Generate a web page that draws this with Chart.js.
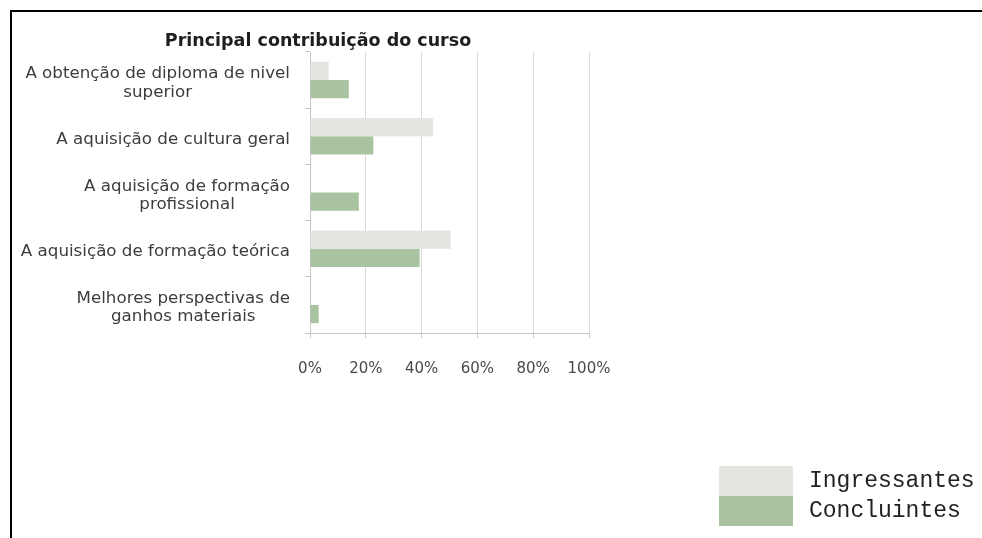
<!DOCTYPE html>
<html>
<head>
<meta charset="utf-8">
<script src="https://cdn.jsdelivr.net/npm/chart.js@4/dist/chart.umd.min.js"></script>
<style>
  html, body { margin: 0; padding: 0; background: #fff; }
  #wrap { position: relative; width: 982px; height: 538px; overflow: hidden; }
  #frame { position: absolute; left: 10px; top: 10px; right: -10px; bottom: -10px;
           border-top: 2px solid #000; border-left: 2px solid #000; }
  canvas { position: absolute; left: 0; top: 0; }
</style>
</head>
<body>
<div id="wrap">
  <div id="frame"></div>
  <canvas id="chart" width="982" height="538"></canvas>
</div>
<script>
// Survey answers: share of respondents per option (%)
const chartTitle = "Principal contribuição do curso";
const categories = [
  ["A obtenção de diploma de nivel", "superior"],
  ["A aquisição de cultura geral"],
  ["A aquisição de formação", "profissional"],
  ["A aquisição de formação teórica"],
  ["Melhores perspectivas de", "ganhos materiais"]
];
const seriesNames = ["Ingressantes", "Concluintes"];
const ingressantes = [6.7, 44.1, 0, 50.4, 0];
const concluintes = [13.9, 22.7, 17.5, 39.3, 3.1];
const xTickValues = [0, 20, 40, 60, 80, 100];

const GRID = '#d9d9d9';
const AXIS = '#c6c6c6';

// Title, multi-line category labels (right-aligned blocks, centered lines) and legend
const decorations = {
  id: 'decorations',
  afterDraw(chart) {
    const ctx = chart.ctx;
    const y = chart.scales.y;
    const area = chart.chartArea;

    ctx.save();
    // title
    ctx.fillStyle = '#1e1e1e';
    ctx.font = 'bold 17.5px "DejaVu Sans"';
    ctx.textAlign = 'center';
    ctx.textBaseline = 'middle';
    ctx.fillText(chartTitle, 318, 41);

    // category labels
    ctx.font = '16.7px "DejaVu Sans"';
    ctx.fillStyle = '#3c3c3c';
    const right = area.left - 20;
    const lineH = 18.5;
    chart.data.labels.forEach((lines, i) => {
      const cy = y.getPixelForValue(i) + 3;
      const w = Math.max(...lines.map(l => ctx.measureText(l).width));
      const cx = right - w / 2;
      const top = cy - (lines.length - 1) * lineH / 2;
      lines.forEach((l, k) => ctx.fillText(l, cx, top + k * lineH));
    });

    // legend: stacked swatches with monospace labels
    const bx = 719, bw = 74, bh = 30, by0 = 466;
    ctx.font = '23px "Liberation Mono"';
    ctx.textAlign = 'left';
    chart.data.datasets.forEach((ds, i) => {
      const by = by0 + i * bh;
      ctx.fillStyle = ds.backgroundColor;
      ctx.fillRect(bx, by, bw, bh);
      ctx.fillStyle = '#222';
      ctx.fillText(ds.label, bx + bw + 16, by + bh / 2);
    });
    ctx.restore();
  }
};

new Chart(document.getElementById('chart'), {
  type: 'bar',
  data: {
    labels: categories,
    datasets: [
      { label: seriesNames[0], data: ingressantes, backgroundColor: '#e2e5e0' },
      { label: seriesNames[1], data: concluintes, backgroundColor: '#a9c3a0' }
    ]
  },
  options: {
    indexAxis: 'y',
    responsive: false,
    animation: false,
    events: [],
    layout: { padding: { left: 310, right: 393, top: 52, bottom: 145 } },
    datasets: { bar: { categoryPercentage: 0.65, barPercentage: 1.0, borderWidth: 0 } },
    plugins: { legend: { display: false }, title: { display: false }, tooltip: { enabled: false } },
    scales: {
      x: {
        min: 0, max: 100,
        afterFit: s => { s.height = 60; },
        afterBuildTicks: s => { s.ticks = xTickValues.map(v => ({ value: v })); },
        ticks: {
          callback: v => v + '%',
          font: { family: '"DejaVu Sans"', size: 15 },
          color: '#4a4a4a',
          padding: 22,
          autoSkip: false,
          maxRotation: 0
        },
        grid: { color: GRID, tickColor: AXIS, tickLength: 5 },
        border: { color: AXIS }
      },
      y: {
        afterFit: s => { s.width = 0; },
        ticks: { display: false },
        grid: { drawOnChartArea: false, tickColor: AXIS, tickLength: 5, offset: true },
        border: { color: AXIS }
      }
    }
  },
  plugins: [decorations]
});
</script>
</body>
</html>
